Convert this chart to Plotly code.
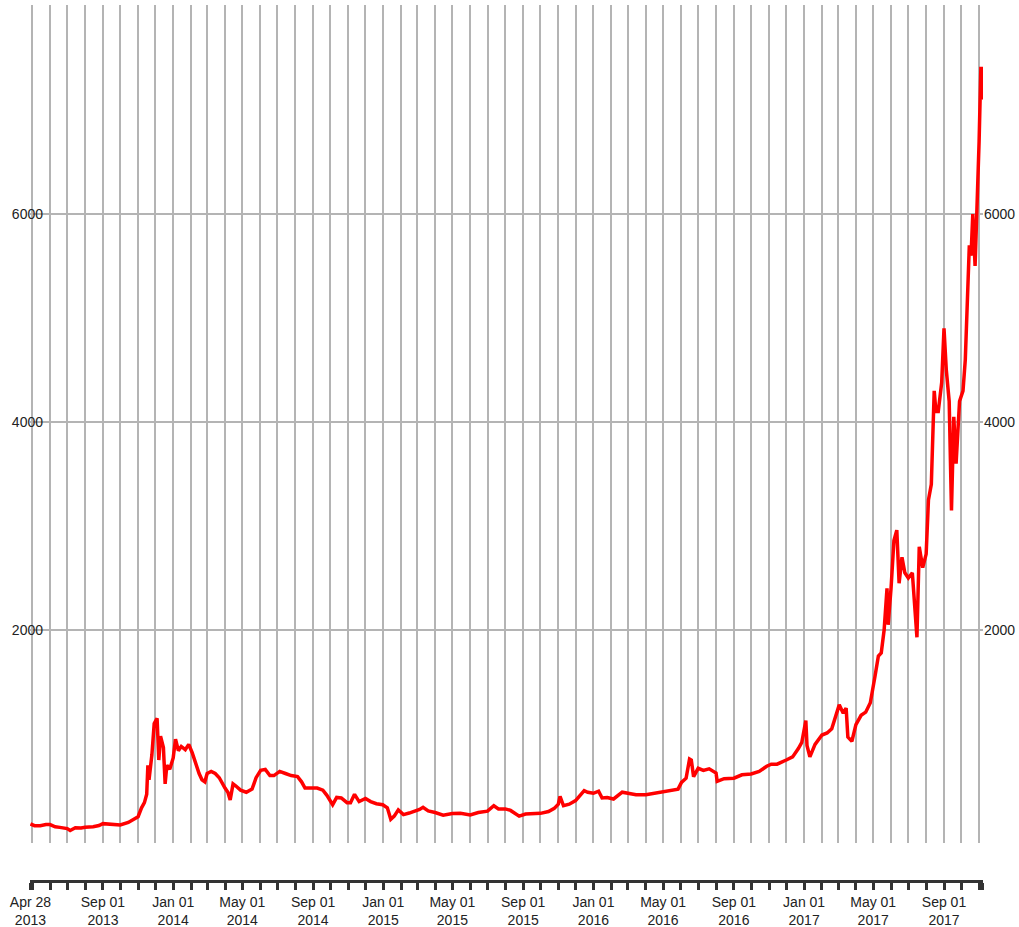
import plotly.graph_objects as go
import pandas as pd

# ---- data ----
dates = [
    "2013-04-28", "2013-05-05", "2013-05-15", "2013-05-25", "2013-06-01", "2013-06-10", "2013-06-18", "2013-06-25",
    "2013-07-01", "2013-07-06", "2013-07-15", "2013-07-25", "2013-08-01", "2013-08-15", "2013-08-25", "2013-09-01",
    "2013-09-15", "2013-10-01", "2013-10-15", "2013-10-25", "2013-11-01", "2013-11-07", "2013-11-12", "2013-11-16",
    "2013-11-18", "2013-11-20", "2013-11-25", "2013-11-29", "2013-12-04", "2013-12-07", "2013-12-10", "2013-12-15",
    "2013-12-18", "2013-12-21", "2013-12-26", "2014-01-01", "2014-01-05", "2014-01-10", "2014-01-15", "2014-01-22",
    "2014-01-28", "2014-02-03", "2014-02-10", "2014-02-15", "2014-02-20", "2014-02-25", "2014-03-01", "2014-03-08",
    "2014-03-15", "2014-03-22", "2014-04-01", "2014-04-06", "2014-04-10", "2014-04-15", "2014-04-20", "2014-04-28",
    "2014-05-08", "2014-05-18", "2014-05-25", "2014-06-02", "2014-06-10", "2014-06-18", "2014-06-25", "2014-07-05",
    "2014-07-15", "2014-07-25", "2014-08-05", "2014-08-12", "2014-08-18", "2014-08-28", "2014-09-08", "2014-09-18",
    "2014-09-25", "2014-10-05", "2014-10-12", "2014-10-20", "2014-10-30", "2014-11-05", "2014-11-12", "2014-11-20",
    "2014-12-01", "2014-12-10", "2014-12-20", "2014-12-31", "2015-01-08", "2015-01-14", "2015-01-20", "2015-01-27",
    "2015-02-05", "2015-02-15", "2015-02-25", "2015-03-05", "2015-03-11", "2015-03-20", "2015-04-01", "2015-04-15",
    "2015-05-01", "2015-05-15", "2015-06-01", "2015-06-15", "2015-07-01", "2015-07-12", "2015-07-20", "2015-08-01",
    "2015-08-10", "2015-08-18", "2015-08-25", "2015-09-05", "2015-09-20", "2015-10-01", "2015-10-15", "2015-10-25",
    "2015-11-01", "2015-11-04", "2015-11-10", "2015-11-20", "2015-12-01", "2015-12-10", "2015-12-16", "2015-12-22",
    "2016-01-01", "2016-01-10", "2016-01-16", "2016-01-25", "2016-02-05", "2016-02-20", "2016-03-01", "2016-03-15",
    "2016-04-01", "2016-04-15", "2016-05-01", "2016-05-15", "2016-05-27", "2016-06-02", "2016-06-10", "2016-06-16",
    "2016-06-19", "2016-06-23", "2016-07-01", "2016-07-10", "2016-07-20", "2016-08-01", "2016-08-03", "2016-08-15",
    "2016-09-01", "2016-09-15", "2016-10-01", "2016-10-15", "2016-10-28", "2016-11-05", "2016-11-15", "2016-12-01",
    "2016-12-12", "2016-12-22", "2016-12-28", "2017-01-04", "2017-01-06", "2017-01-11", "2017-01-20", "2017-02-01",
    "2017-02-10", "2017-02-18", "2017-02-25", "2017-03-03", "2017-03-10", "2017-03-15", "2017-03-18", "2017-03-25",
    "2017-04-01", "2017-04-10", "2017-04-18", "2017-04-26", "2017-05-04", "2017-05-10", "2017-05-15", "2017-05-20",
    "2017-05-25", "2017-05-27", "2017-06-01", "2017-06-06", "2017-06-11", "2017-06-15", "2017-06-20", "2017-06-25",
    "2017-07-01", "2017-07-08", "2017-07-16", "2017-07-20", "2017-07-26", "2017-08-01", "2017-08-05", "2017-08-10",
    "2017-08-15", "2017-08-18", "2017-08-22", "2017-08-28", "2017-09-01", "2017-09-05", "2017-09-10", "2017-09-14",
    "2017-09-18", "2017-09-22", "2017-09-28", "2017-10-04", "2017-10-08", "2017-10-12", "2017-10-15", "2017-10-18",
    "2017-10-21", "2017-10-25", "2017-10-29", "2017-11-01", "2017-11-04", "2017-11-05", "2017-11-07",
]
price = [
    135, 118, 118, 130, 129, 108, 102, 98,
    90, 72, 98, 96, 104, 108, 120, 138,
    135, 125, 150, 185, 205, 290, 340, 420,
    700, 560, 800, 1100, 1150, 750, 980, 870,
    520, 700, 660, 770, 950, 840, 880, 850,
    900, 820, 700, 620, 560, 540, 620, 640,
    620, 580, 480, 440, 365, 520, 500, 460,
    440, 470, 580, 650, 660, 600, 600, 640,
    620, 600, 590, 540, 480, 480, 480, 460,
    410, 320, 390, 385, 340, 340, 420, 350,
    380, 350, 330, 320, 290, 180, 210, 270,
    225, 240, 255, 275, 295, 260, 245, 220,
    235, 237, 222, 245, 258, 310, 280, 280,
    265, 230, 210, 230, 230, 237, 255, 285,
    325, 400, 310, 325, 360, 415, 455, 440,
    430, 450, 385, 390, 375, 440, 430, 415,
    417, 430, 450, 455, 470, 535, 575, 760,
    750, 590, 670, 650, 665, 625, 545, 570,
    575, 608, 615, 640, 690, 710, 710, 750,
    780, 860, 920, 1130, 890, 780, 900, 990,
    1010, 1050, 1180, 1280, 1200, 1250, 970, 930,
    1090, 1180, 1210, 1300, 1550, 1750, 1780, 2000,
    2400, 2050, 2400, 2860, 2960, 2450, 2700, 2550,
    2500, 2550, 1930, 2800, 2600, 2730, 3250, 3400,
    4300, 4100, 4100, 4380, 4900, 4500, 4200, 3150,
    4050, 3600, 4200, 4300, 4600, 5400, 5700, 5600,
    6000, 5500, 6100, 6700, 7400, 7400, 7100,
]

x_start = "2013-04-28"
x_end = "2017-11-07"

# tick positions: start, every month start, end
tick_dates = [pd.Timestamp(x_start)] + list(pd.date_range("2013-05-01", "2017-11-01", freq="MS")) + [pd.Timestamp(x_end)]
label_dates = ["2013-04-28", "2013-09-01", "2014-01-01", "2014-05-01", "2014-09-01", "2015-01-01",
               "2015-05-01", "2015-09-01", "2016-01-01", "2016-05-01", "2016-09-01", "2017-01-01",
               "2017-05-01", "2017-09-01"]
label_set = {pd.Timestamp(d) for d in label_dates}
tick_text = [d.strftime("%b %d") + "<br>" + d.strftime("%Y") if d in label_set else "" for d in tick_dates]

y_ticks = [2000, 4000, 6000]
y_range = [-48, 8010]

fig = go.Figure()
fig.add_trace(go.Scatter(
    x=pd.to_datetime(dates), y=price, mode="lines",
    line=dict(color="#ff0000", width=3.5), xaxis="x", yaxis="y", showlegend=False,
))
# invisible trace for the right axis
fig.add_trace(go.Scatter(x=[dates[0]], y=[price[0]], mode="lines", line=dict(width=0),
                         xaxis="x", yaxis="y3", showlegend=False, hoverinfo="skip"))
# invisible trace for the bottom axis
fig.add_trace(go.Scatter(x=[dates[0]], y=[0], mode="lines", line=dict(width=0),
                         xaxis="x2", yaxis="y2", showlegend=False, hoverinfo="skip"))

grid_col = "#b4b4b4"
font = dict(family="Liberation Sans, Arial, sans-serif", size=14, color="#222222")
xr = [pd.Timestamp(x_start) - pd.Timedelta(hours=18), pd.Timestamp(x_end) + pd.Timedelta(hours=18)]

fig.update_layout(
    width=1019, height=927,
    margin=dict(l=30, r=36, t=5, b=47, autoexpand=False),
    paper_bgcolor="white", plot_bgcolor="white",
    font=font,
    xaxis=dict(
        domain=[0, 1], anchor="y", range=xr, type="date", automargin=False,
        tickmode="array", tickvals=tick_dates, showticklabels=False, ticks="",
        showgrid=True, gridcolor=grid_col, gridwidth=2, zeroline=False, showline=False,
    ),
    yaxis=dict(
        domain=[0.0423, 1], anchor="x", range=y_range, automargin=False,
        tickmode="array", tickvals=y_ticks, ticks="",
        showgrid=True, gridcolor=grid_col, gridwidth=2, zeroline=False, showline=False,
        ticklabelstandoff=-14,
    ),
    yaxis3=dict(
        overlaying="y", side="right", anchor="x", range=y_range, automargin=False,
        tickmode="array", tickvals=y_ticks, ticks="", showgrid=False, zeroline=False, showline=False,
    ),
    xaxis2=dict(
        domain=[0, 1], anchor="y2", range=xr, type="date", automargin=False,
        tickmode="array", tickvals=tick_dates, ticktext=tick_text,
        ticks="outside", ticklen=7, tickwidth=3, tickcolor="#333333",
        showline=True, linecolor="#333333", linewidth=3, showgrid=False, zeroline=False,
    ),
    yaxis2=dict(domain=[0, 0.001], anchor="x2", visible=False, range=[0, 1]),
)

fig.write_html("out.html", config={"displayModeBar": False},
               post_script="document.body.style.margin='0';")
